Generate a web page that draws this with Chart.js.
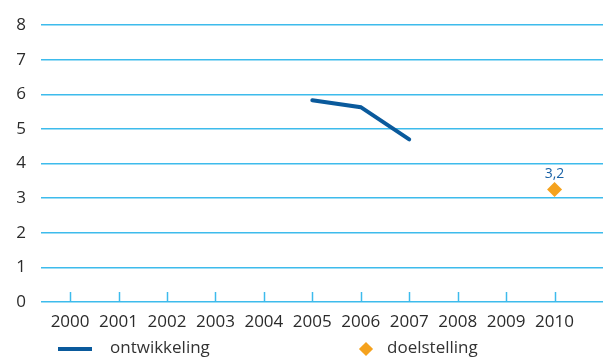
<!DOCTYPE html>
<html>
<head>
<meta charset="utf-8">
<script src="https://cdn.jsdelivr.net/npm/chart.js@4"></script>
<style>
  html, body { margin: 0; padding: 0; background: #ffffff; }
  #wrap { position: relative; width: 603px; height: 361px; }
  #c { position: absolute; left: 0; top: 0; }
  .leg { position: absolute; font-family: "Open Sans", sans-serif; font-size: 17px; color: #333333; line-height: 20px; }
  .sw-line { position: absolute; width: 34px; height: 4px; background: #0a5a9c; }
  .sw-dia { position: absolute; width: 10px; height: 10px; background: #f5a21d; transform: rotate(45deg); }
</style>
</head>
<body>
<div id="wrap">
  <canvas id="c" width="603" height="361"></canvas>
  <div class="sw-line" style="left:58px; top:347px;"></div>
  <div class="leg" style="left:110px; top:337px;">ontwikkeling</div>
  <div class="sw-dia" style="left:361px; top:344px;"></div>
  <div class="leg" style="left:387px; top:337px;">doelstelling</div>
</div>
<script>
const years = [2000, 2001, 2002, 2003, 2004, 2005, 2006, 2007, 2008, 2009, 2010];
const ontwikkeling = [null, null, null, null, null, 5.83, 5.63, 4.7, null, null, null];
const doelstelling = [null, null, null, null, null, null, null, null, null, null, 3.25];
const doelLabel = "3,2";
const yTicks = [0, 1, 2, 3, 4, 5, 6, 7, 8];

const toPts = arr => years.map((y, i) => ({ x: y, y: arr[i] })).filter(p => p.y !== null);

const gridBlue = '#3dbbec';

const tickMarks = {
  id: 'tickMarks',
  afterDatasetsDraw(chart) {
    const ctx = chart.ctx;
    const xs = chart.scales.x, ys = chart.scales.y;
    const y0 = ys.getPixelForValue(0);
    ctx.save();
    ctx.strokeStyle = gridBlue;
    ctx.lineWidth = 1.5;
    years.forEach(yr => {
      const px = Math.round(xs.getPixelForValue(yr)) + 0.5;
      ctx.beginPath();
      ctx.moveTo(px, y0 - 10);
      ctx.lineTo(px, y0);
      ctx.stroke();
    });
    const meta = chart.getDatasetMeta(1);
    if (meta.data.length) {
      const pt = meta.data[0];
      ctx.fillStyle = '#1a62a6';
      ctx.font = '14px "Open Sans", sans-serif';
      ctx.textAlign = 'center';
      ctx.textBaseline = 'bottom';
      ctx.fillText(doelLabel, pt.x, pt.y - 9);
    }
    ctx.restore();
  }
};

new Chart(document.getElementById('c'), {
  type: 'line',
  data: {
    datasets: [
      {
        label: 'ontwikkeling',
        data: toPts(ontwikkeling),
        borderColor: '#0a5a9c',
        backgroundColor: '#0a5a9c',
        borderWidth: 4,
        borderCapStyle: 'round',
        pointRadius: 0,
        tension: 0
      },
      {
        label: 'doelstelling',
        data: toPts(doelstelling),
        showLine: false,
        pointStyle: 'rectRot',
        pointRadius: 7.5,
        pointBackgroundColor: '#f5a21d',
        pointBorderColor: '#f5a21d',
        borderWidth: 0
      }
    ]
  },
  options: {
    responsive: false,
    animation: false,
    layout: { autoPadding: false, padding: { top: 25, right: 0, bottom: 0, left: 0 } },
    plugins: { legend: { display: false }, tooltip: { enabled: false } },
    scales: {
      x: {
        type: 'linear',
        min: 1999.4,
        max: 2011,
        afterBuildTicks(scale) { scale.ticks = years.map(v => ({ value: v })); },
        afterFit(scale) { scale.height = 59; },
        grid: { display: false, drawTicks: false },
        border: { display: false },
        ticks: {
          autoSkip: false,
          maxRotation: 0,
          padding: 10,
          color: '#2b2b2b',
          font: { family: '"Open Sans", sans-serif', size: 17 },
          callback: v => String(v)
        }
      },
      y: {
        min: 0,
        max: 8,
        afterBuildTicks(scale) { scale.ticks = yTicks.map(v => ({ value: v })); },
        afterFit(scale) { scale.width = 41; },
        grid: { color: gridBlue, lineWidth: 1.5, drawTicks: false },
        border: { display: false },
        ticks: {
          padding: 15,
          color: '#2b2b2b',
          font: { family: '"Open Sans", sans-serif', size: 17 }
        }
      }
    }
  },
  plugins: [tickMarks]
});
</script>
</body>
</html>
